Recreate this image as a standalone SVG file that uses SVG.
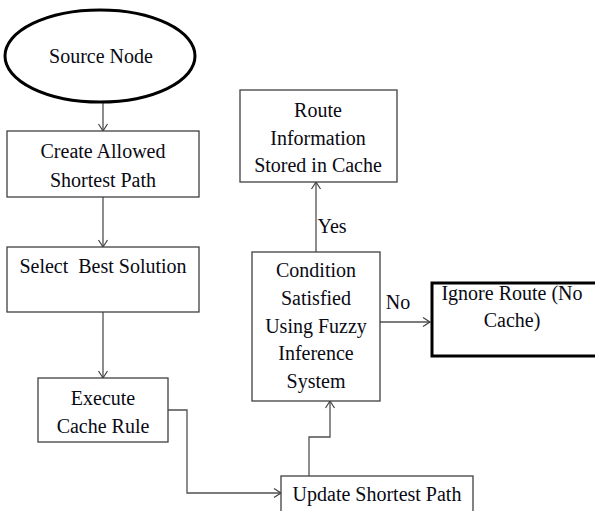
<svg xmlns="http://www.w3.org/2000/svg" width="595" height="511" viewBox="0 0 595 511">
<defs>
<marker id="arr" markerWidth="10" markerHeight="12" refX="8" refY="5" orient="auto" markerUnits="userSpaceOnUse">
<path d="M1,0.5 L8,5 L1,9.5" fill="none" stroke="#404040" stroke-width="1.2"/>
</marker>
<style>
text{font-family:"Liberation Serif","Times New Roman",serif;font-size:20px;fill:#0a0a14;text-anchor:middle}
.box{fill:#fff;stroke:#404040;stroke-width:1.3}
.thick{fill:#fff;stroke:#000;stroke-width:3}
.conn{fill:none;stroke:#505050;stroke-width:1.3}
</style>
</defs>
<rect width="595" height="511" fill="#fff"/>
<g id="connectors">
<line class="conn" x1="103" y1="102" x2="103" y2="131" marker-end="url(#arr)"/>
<line class="conn" x1="103" y1="197" x2="103" y2="247" marker-end="url(#arr)"/>
<line class="conn" x1="103" y1="312" x2="103" y2="378" marker-end="url(#arr)"/>
<polyline class="conn" points="168,410 187,410 187,493 281,493" marker-end="url(#arr)"/>
<polyline class="conn" points="309,476 309,437 330,437 330,401" marker-end="url(#arr)"/>
<line class="conn" x1="316" y1="252" x2="316" y2="182" marker-end="url(#arr)"/>
<line class="conn" x1="380" y1="322" x2="430" y2="322" marker-end="url(#arr)"/>
<text x="332" y="233">Yes</text>
<text x="398" y="309">No</text>
</g>
<g id="source">
<ellipse cx="100" cy="56" rx="95" ry="46" class="thick"/>
<text x="101" y="63">Source Node</text>
</g>
<g id="create">
<rect class="box" x="7" y="131" width="192" height="66"/>
<text x="103" y="158">Create Allowed</text>
<text x="103" y="187">Shortest Path</text>
</g>
<g id="select">
<rect class="box" x="7" y="247" width="192" height="65"/>
<text x="103" y="273" style="white-space:pre" xml:space="preserve">Select  Best Solution</text>
</g>
<g id="execute">
<rect class="box" x="38" y="378" width="130" height="64"/>
<text x="103" y="405">Execute</text>
<text x="103" y="433">Cache Rule</text>
</g>
<g id="update">
<rect class="box" x="281" y="476" width="192" height="40"/>
<text x="377" y="501">Update Shortest Path</text>
</g>
<g id="condition">
<rect class="box" x="252" y="252" width="128" height="149"/>
<text x="316" y="277">Condition</text>
<text x="316" y="305">Satisfied</text>
<text x="316" y="333">Using Fuzzy</text>
<text x="316" y="360">Inference</text>
<text x="316" y="388">System</text>
</g>
<g id="route">
<rect class="box" x="240" y="90" width="157" height="92"/>
<text x="318" y="117">Route</text>
<text x="318" y="145">Information</text>
<text x="318" y="172">Stored in Cache</text>
</g>
<g id="ignore">
<rect class="thick" x="432" y="283" width="170" height="73"/>
<text x="512" y="300">Ignore Route (No</text>
<text x="512" y="327">Cache)</text>
</g>
</svg>
